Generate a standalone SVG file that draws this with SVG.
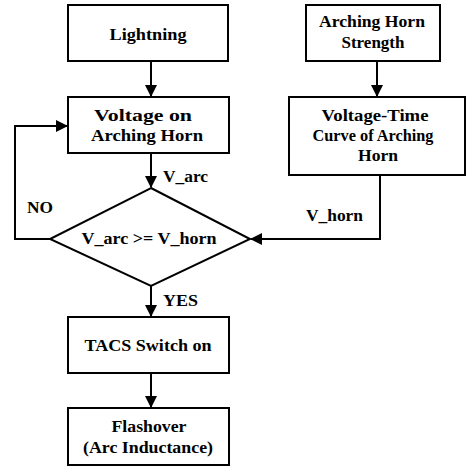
<svg xmlns="http://www.w3.org/2000/svg" width="466" height="467" viewBox="0 0 466 467">
<style>
.box{fill:#fff;stroke:#000;stroke-width:2}
.ln{fill:none;stroke:#000;stroke-width:2}
text{font-family:"Liberation Serif","Times New Roman",serif;font-weight:bold;font-size:17px;fill:#000}
.c{text-anchor:middle}
</style>
<defs>
<marker id="ah" markerWidth="12" markerHeight="12" refX="11" refY="6" orient="auto" markerUnits="userSpaceOnUse">
<path d="M0,0 L12,6 L0,12 Z" fill="#000"/>
</marker>
</defs>
<rect width="466" height="467" fill="#fff"/>
<g id="connectors">
<line class="ln" x1="151" y1="61" x2="151" y2="96" marker-end="url(#ah)"/>
<line class="ln" x1="377" y1="61" x2="377" y2="96" marker-end="url(#ah)"/>
<line class="ln" x1="151" y1="153" x2="151" y2="187" marker-end="url(#ah)"/>
<polyline class="ln" points="50,239 15,239 15,126 67,126" marker-end="url(#ah)"/>
<polyline class="ln" points="380,175 380,239 251,239" marker-end="url(#ah)"/>
<line class="ln" x1="151" y1="286" x2="151" y2="316" marker-end="url(#ah)"/>
<line class="ln" x1="151" y1="373" x2="151" y2="407" marker-end="url(#ah)"/>
<text x="163" y="182" textLength="45" lengthAdjust="spacingAndGlyphs">V_arc</text>
<text x="27" y="213" textLength="26" lengthAdjust="spacingAndGlyphs">NO</text>
<text x="306" y="221" textLength="57" lengthAdjust="spacingAndGlyphs">V_horn</text>
<text x="163" y="306" textLength="35" lengthAdjust="spacingAndGlyphs">YES</text>
</g>
<g id="lightning">
<rect class="box" x="68" y="5" width="160" height="56"/>
<text class="c" x="148" y="40" textLength="77" lengthAdjust="spacingAndGlyphs">Lightning</text>
</g>
<g id="voltage-horn">
<rect class="box" x="68" y="97" width="161" height="56"/>
<text class="c" x="143" y="121" textLength="98" lengthAdjust="spacingAndGlyphs">Voltage on</text>
<text class="c" x="147" y="141" textLength="112" lengthAdjust="spacingAndGlyphs">Arching Horn</text>
</g>
<g id="horn-strength">
<rect class="box" x="306" y="5" width="134" height="56"/>
<text class="c" x="372" y="27" textLength="106" lengthAdjust="spacingAndGlyphs">Arching Horn</text>
<text class="c" x="373" y="48" textLength="63" lengthAdjust="spacingAndGlyphs">Strength</text>
</g>
<g id="vt-curve">
<rect class="box" x="289" y="97" width="176" height="78"/>
<text class="c" x="375" y="121" textLength="107" lengthAdjust="spacingAndGlyphs">Voltage-Time</text>
<text class="c" x="373" y="141" textLength="121" lengthAdjust="spacingAndGlyphs">Curve of Arching</text>
<text class="c" x="378" y="161" textLength="40" lengthAdjust="spacingAndGlyphs">Horn</text>
</g>
<g id="decision">
<polygon class="box" points="151,188 250,239 151,286 50,239"/>
<text class="c" x="149" y="244" textLength="135" lengthAdjust="spacingAndGlyphs">V_arc &gt;= V_horn</text>
</g>
<g id="tacs">
<rect class="box" x="68" y="317" width="161" height="56"/>
<text class="c" x="148" y="351" textLength="127" lengthAdjust="spacingAndGlyphs">TACS Switch on</text>
</g>
<g id="flashover">
<rect class="box" x="68" y="408" width="161" height="57"/>
<text class="c" x="149" y="432" textLength="75" lengthAdjust="spacingAndGlyphs">Flashover</text>
<text class="c" x="148" y="453" textLength="130" lengthAdjust="spacingAndGlyphs">(Arc Inductance)</text>
</g>
</svg>
